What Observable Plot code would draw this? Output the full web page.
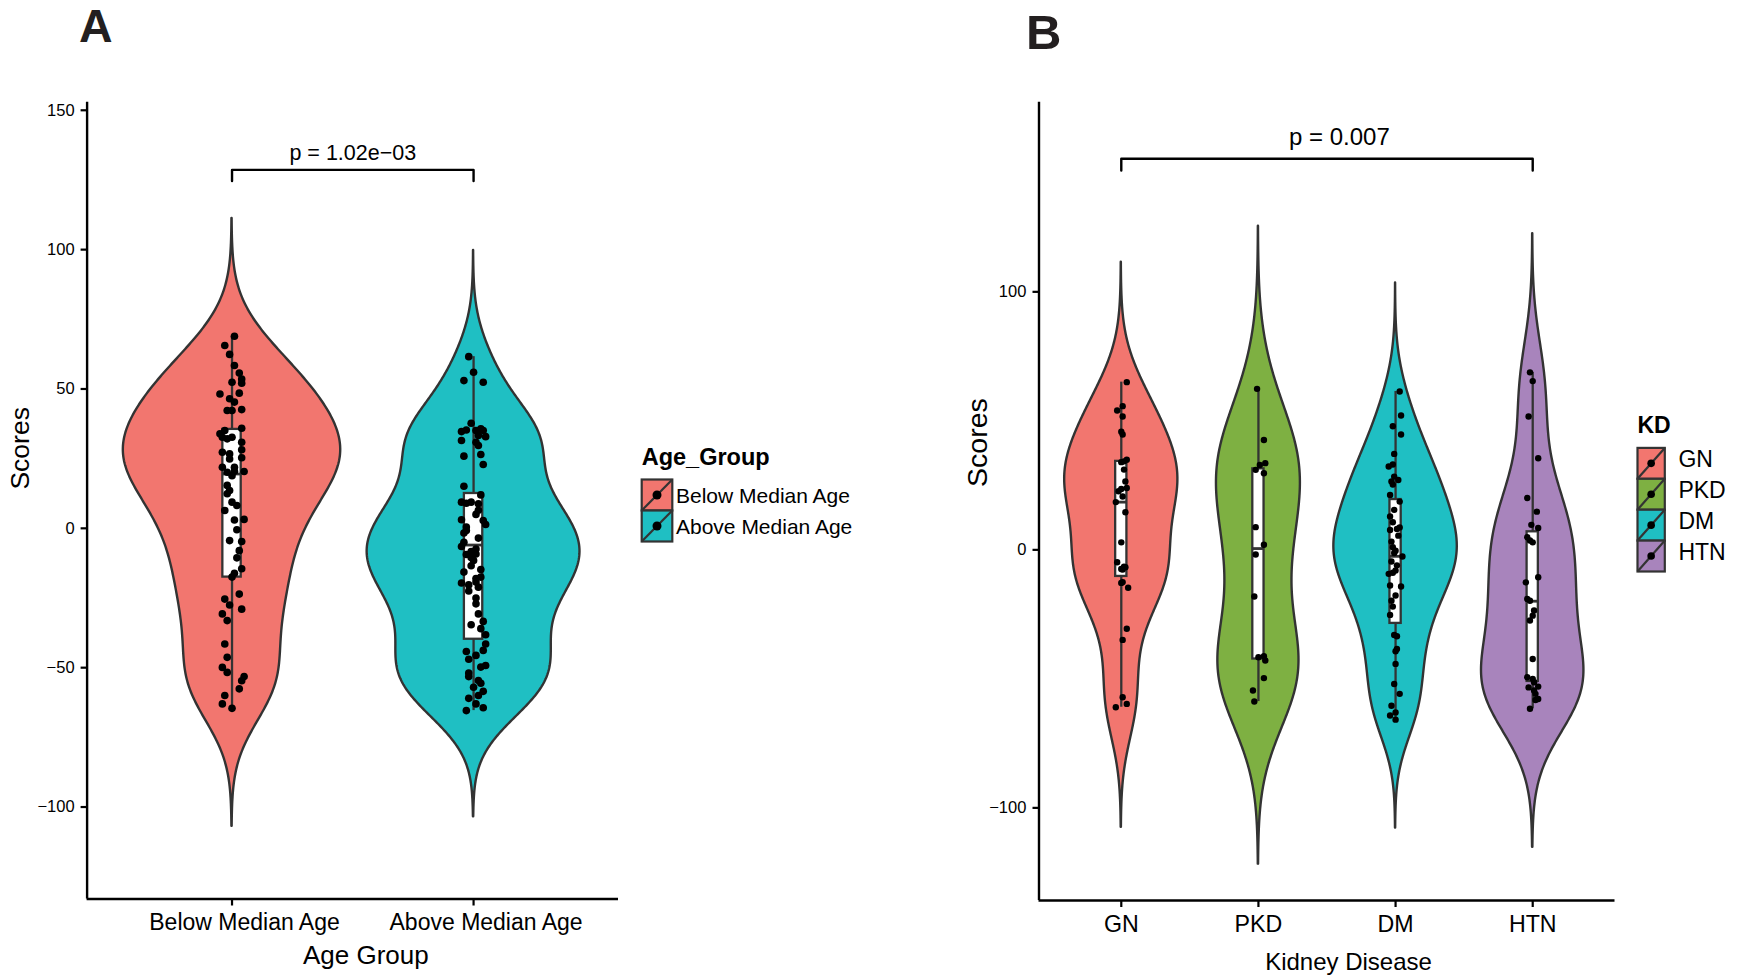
<!DOCTYPE html>
<html><head><meta charset="utf-8">
<script src="https://cdn.jsdelivr.net/npm/d3@7"></script>
<script src="https://cdn.jsdelivr.net/npm/@observablehq/plot@0.6"></script>
<style>
html,body{margin:0;padding:0;background:#fff;}
#root{position:relative;width:1737px;height:976px;overflow:hidden;font-family:"Liberation Sans",Arial,Helvetica,sans-serif;}
</style></head><body><div id="root"></div>
<script>
// ---------------- Panel A data ----------------
const groupsA = ["Below Median Age", "Above Median Age"];
const colorsA = ["#F2766F", "#1FBFC3"];
const scoresBelow = [68.9,65.6,62.4,58.4,55.7,53.6,52.1,52.4,48.2,46.5,45.3,48.5,42.6,42.3,42.3,35.9,35.1,33.9,32.7,32.1,32.7,30.9,28.2,27.3,26.7,24.9,25.3,21.9,21.9,20.5,20.1,18.9,20.4,15.4,13.6,12.4,9.4,8.2,6.4,3.0,3.2,-0.5,-4.4,-4.7,-8.0,-10.6,-14.5,-16.1,-17.5,-23.6,-25.4,-27.5,-29.0,-30.7,-33.1,-41.5,-46.3,-49.9,-51.7,-53.2,-54.7,-57.6,-60.0,-63.0,-64.6];
const jitterBelow = [1,-3,-1,1,3,4,4,0,-5,-1,1,3,4,-2,0,4,-3,-5,-4,-2,0,4,4,-4,-1,-1,4,-4,1,1,-2,0,5,-2,-1,-2,0,2,-3,1,5,2,-1,4,3,2,4,1,0,3,-3,-1,4,-4,-2,-3,-2,-4,-2,5,4,3,-3,-4,0];
const scoresAbove = [61.6,56.0,53.0,52.4,37.7,34.7,35.3,35.1,35.7,35.1,33.3,32.9,31.5,30.9,29.7,26.5,25.9,22.9,15.1,12.0,9.4,9.0,9.4,8.8,5.0,2.8,1.4,3.1,-0.8,-1.7,-6.5,-7.4,-8.3,-9.2,-9.4,-11.5,-13.4,-15.7,-17.5,-19.6,-20.3,-19.3,-21.1,-27.1,-30.7,-33.4,-34.6,-38.2,-41.5,-43.8,-44.2,-45.6,-49.8,-49.2,-51.9,-53.2,-54.6,-55.6,-58.5,-61.0,-63.0,-65.4,-64.4,
  -3.5,-10.5,-14.8,-22.5,-25.0,0.5,6.5,-5.0,-18.0,-36.0,-47.0,-57.0,-60.0];
const jitterAbove = [-2,0,-4,4,-1,-5,-3,1,3,4,2,5,-5,1,2,3,-4,4,-4,3,-5,-3,-1,2,1,4,5,-5,-3,-4,-5,1,-1,1,-3,0,-1,-4,3,-5,-2,1,2,1,2,4,-1,5,5,4,-3,1,3,5,-2,-2,2,3,4,-2,1,-3,4,
  2,-1,3,-2,1,-3,2,-4,1,3,-2,0,2];
const bandwidthA = [14.1, 12.7];
const boxLoA = [-64.6, -65.4], boxQ1A = [-17.5, -39.8], boxMedA = [19.5, -6], boxQ3A = [35.5, 12.5], boxHiA = [68.9, 61.6];
const yTicksA = [-100, -50, 0, 50, 100, 150];
const pLabelA = "p = 1.02e\u221203";
const bracketA = {from: 1, to: 2, y: 128.6, tip: 124.6, labelX: 1.5, labelY: 132.2};

// ---------------- Panel B data ----------------
const groupsB = ["GN", "PKD", "DM", "HTN"];
const colorsB = ["#F2766F", "#7EB042", "#1FBFC3", "#A884BC"];
const scoresGN = [65.0,55.7,54.0,51.7,45.8,44.7,34.0,34.3,34.9,31.1,26.5,24.0,23.6,22.7,20.7,18.5,14.6,2.9,-4.8,-7.4,-6.5,-6.7,-7.6,-12.8,-12.5,-14.7,-30.6,-34.9,-57.1,-61.0,-59.7];
const jitterGN = [4,1,-3,1,0,1,0,2,4,2,3,4,0,-2,1,-4,3,0,-3,0,2,3,1,0,1,5,4,1,1,-4,4];
const scoresPKD = [62.4,42.6,33.6,32.9,31.0,29.7,8.8,2.0,-1.8,-18.1,-41.6,-41.2,-42.9,-49.7,-54.5,-58.8];
const jitterPKD = [-1,4,5,1,-2,4,-2,4,-2,-3,0,4,5,4,-4,-3];
const scoresDM = [61.4,52.1,47.9,44.7,37.2,33.1,32.3,28.4,27.1,26.5,25.3,21.3,18.7,12.9,10.7,8.7,7.7,8.1,3.2,1.0,-0.3,-1.2,-2.6,-9.3,-8.9,-8.0,-13.8,-14.2,-17.7,-19.7,-25.2,-33.0,-33.5,-38.4,-39.3,-44.2,-52.0,-55.8,-60.4,-63.0,-64.2,-65.8,
  5.5,-4.5,-6.0,-22.0,15.5];
const jitterDM = [3,4,-2,4,-1,-2,-5,-1,2,-3,-2,-4,3,-4,-2,3,-4,1,-3,-2,0,-1,5,-5,-2,0,-4,4,0,-3,-4,-1,1,1,0,0,-1,3,-3,0,-4,0,
  2,-3,1,-2,-1];
const scoresHTN = [68.8,65.4,51.7,35.5,20.1,14.8,9.7,8.5,4.9,3.6,2.9,-10.6,-12.6,-19.0,-19.7,-23.5,-25.5,-27.4,-42.3,-49.4,-50.0,-51.3,-53.3,-53.0,-54.5,-55.8,-57.8,-58.2,-61.6];
const jitterHTN = [-2,0,-3,4,-4,3,-1,4,-4,-2,0,4,-5,-4,-2,1,0,-2,0,-4,0,1,-3,4,1,2,4,2,-2];
const bandwidthB = [15.5, 21, 14, 17.9];
const boxLoB = [-61.0, -58.8, -65.8, -61.6], boxQ1B = [-10.3, -42.3, -28.5, -51.0], boxMedB = [18.5, 0.5, -2.5, -19.9], boxQ3B = [34.3, 31.4, 19.5, 7.0], boxHiB = [65.0, 62.4, 61.4, 68.8];
const yTicksB = [-100, 0, 100];
const pLabelB = "p = 0.007";
const bracketB = {from: 1, to: 4, y: 151.6, tip: 147, labelX: 2.59, labelY: 157.1};

// ---------------- helpers ----------------
const FONT = '"Liberation Sans", Arial, Helvetica, sans-serif';
function kde(values, bw, n = 400) {
  const lo = d3.min(values) - 3 * bw, hi = d3.max(values) + 3 * bw;
  const out = [];
  for (let i = 0; i < n; i++) {
    const y = lo + (hi - lo) * i / (n - 1);
    let s = 0;
    for (const v of values) { const u = (y - v) / bw; s += Math.exp(-0.5 * u * u); }
    out.push({y, d: s / (values.length * bw * Math.sqrt(2 * Math.PI))});
  }
  return out;
}
function buildPanel(groups, scores, jitters, bws, lo, q1, med, q3, hi) {
  const dens = groups.map((g, i) => kde(scores[i], bws[i]));
  const maxD = d3.max(dens.flat(), d => d.d);
  const violin = [];
  dens.forEach((arr, i) => arr.forEach(p => {
    const hw = 0.45 * p.d / maxD;
    violin.push({g: groups[i], y: p.y, x1: i + 1 - hw, x2: i + 1 + hw});
  }));
  const points = [];
  scores.forEach((arr, i) => arr.forEach((v, j) => points.push({g: groups[i], v, x: i + 1 + jitters[i][j] * 0.01})));
  const boxes = groups.map((g, i) => ({g, c: i + 1, lo: lo[i], q1: q1[i], med: med[i], q3: q3[i], hi: hi[i]}));
  return {violin, points, boxes};
}
function bracketPts(b) {
  return [{x: b.from, y: b.tip}, {x: b.from, y: b.y}, {x: b.to, y: b.y}, {x: b.to, y: b.tip}];
}

const root = document.getElementById("root");
const LINE = "#333333";

// ---------------- Panel A ----------------
const A = buildPanel(groupsA, [scoresBelow, scoresAbove], [jitterBelow, jitterAbove], bandwidthA, boxLoA, boxQ1A, boxMedA, boxQ3A, boxHiA);
const boxWA = 0.076;
const plotA = Plot.plot({
  width: 640, height: 976,
  marginLeft: 86.6, marginRight: 22, marginTop: 101.7, marginBottom: 77.5,
  style: {fontFamily: FONT, color: "black", background: "transparent", overflow: "visible"},
  x: {domain: [0.4, 2.6]},
  y: {domain: [-133.0, 152.9]},
  color: {domain: groupsA, range: colorsA},
  marks: [
    Plot.areaX(A.violin, {y: "y", x1: "x1", x2: "x2", z: "g", fill: "g", stroke: LINE, strokeWidth: 2.4}),
    Plot.ruleX(A.boxes, {x: "c", y1: "lo", y2: "q1", stroke: LINE, strokeWidth: 2.3}),
    Plot.ruleX(A.boxes, {x: "c", y1: "q3", y2: "hi", stroke: LINE, strokeWidth: 2.3}),
    Plot.rect(A.boxes, {x1: d => d.c - boxWA / 2, x2: d => d.c + boxWA / 2, y1: "q1", y2: "q3", fill: "white", stroke: LINE, strokeWidth: 2.3}),
    Plot.ruleY(A.boxes, {y: "med", x1: d => d.c - boxWA / 2, x2: d => d.c + boxWA / 2, stroke: LINE, strokeWidth: 2.8}),
    Plot.dot(A.points, {x: "x", y: "v", r: 3.8, fill: "black"}),
    Plot.line(bracketPts(bracketA), {x: "x", y: "y", stroke: "black", strokeWidth: 2.4}),
    Plot.text([pLabelA], {x: bracketA.labelX, y: bracketA.labelY, text: d => d, fontSize: 21.5, lineAnchor: "bottom", fill: "black"}),
    Plot.ruleX([0.4], {stroke: "black", strokeWidth: 2.4}),
    Plot.ruleY([-133.0], {stroke: "black", strokeWidth: 2.4}),
    Plot.axisY({ticks: yTicksA, tickSize: 6, tickPadding: 6.5, fontSize: 16.5, strokeWidth: 2.2, label: null}),
    Plot.axisX({ticks: [1, 2], tickSize: 7, strokeWidth: 2.2, tickFormat: () => "", label: null}),
    Plot.axisX({ticks: [1, 2], tickSize: 0, tickPadding: 14.2, fontSize: 23, dx: 12.5, tickFormat: i => groupsA[i - 1], label: null}),
    Plot.text(["Scores"], {text: d => d, frameAnchor: "left", rotate: -90, dx: -66.6, dy: -11, fontSize: 26.5, lineAnchor: "middle", fill: "black"}),
    Plot.text(["Age Group"], {text: d => d, frameAnchor: "bottom", lineAnchor: "bottom", dx: 13, dy: 64.5, fontSize: 26, fill: "black"}),
    Plot.text(["A"], {text: d => d, frameAnchor: "top-left", textAnchor: "start", lineAnchor: "bottom", dx: -8.1, dy: -60, fontSize: 46.5, fontWeight: "bold", fill: "#231F20"})
  ]
});
plotA.style.position = "absolute"; plotA.style.left = "0px"; plotA.style.top = "0px";
root.appendChild(plotA);

// ---------------- Panel B ----------------
const B = buildPanel(groupsB, [scoresGN, scoresPKD, scoresDM, scoresHTN], [jitterGN, jitterPKD, jitterDM, jitterHTN], bandwidthB, boxLoB, boxQ1B, boxMedB, boxQ3B, boxHiB);
const boxWB = 0.082;
const plotB = Plot.plot({
  width: 680, height: 976,
  marginLeft: 98.5, marginRight: 5.5, marginTop: 101.7, marginBottom: 76,
  style: {fontFamily: FONT, color: "black", background: "transparent", overflow: "visible"},
  x: {domain: [0.4, 4.6]},
  y: {domain: [-135.9, 173.5]},
  color: {domain: groupsB, range: colorsB},
  marks: [
    Plot.areaX(B.violin, {y: "y", x1: "x1", x2: "x2", z: "g", fill: "g", stroke: LINE, strokeWidth: 2.4}),
    Plot.ruleX(B.boxes, {x: "c", y1: "lo", y2: "q1", stroke: LINE, strokeWidth: 2.3}),
    Plot.ruleX(B.boxes, {x: "c", y1: "q3", y2: "hi", stroke: LINE, strokeWidth: 2.3}),
    Plot.rect(B.boxes, {x1: d => d.c - boxWB / 2, x2: d => d.c + boxWB / 2, y1: "q1", y2: "q3", fill: "white", stroke: LINE, strokeWidth: 2.3}),
    Plot.ruleY(B.boxes, {y: "med", x1: d => d.c - boxWB / 2, x2: d => d.c + boxWB / 2, stroke: LINE, strokeWidth: 2.8}),
    Plot.dot(B.points, {x: "x", y: "v", r: 3.2, fill: "black"}),
    Plot.line(bracketPts(bracketB), {x: "x", y: "y", stroke: "black", strokeWidth: 2.4}),
    Plot.text([pLabelB], {x: bracketB.labelX, y: bracketB.labelY, text: d => d, fontSize: 24, lineAnchor: "bottom", fill: "black"}),
    Plot.ruleX([0.4], {stroke: "black", strokeWidth: 2.4}),
    Plot.ruleY([-135.9], {stroke: "black", strokeWidth: 2.4}),
    Plot.axisY({ticks: yTicksB, tickSize: 6, tickPadding: 6.6, fontSize: 16.5, strokeWidth: 2.2, label: null}),
    Plot.axisX({ticks: [1, 2, 3, 4], tickSize: 7, strokeWidth: 2.2, tickFormat: () => "", label: null}),
    Plot.axisX({ticks: [1, 2, 3, 4], tickSize: 0, tickPadding: 15.5, fontSize: 23.2, tickFormat: i => groupsB[i - 1], label: null}),
    Plot.text(["Scores"], {text: d => d, frameAnchor: "left", rotate: -90, dx: -61, dy: -14.4, fontSize: 28.5, lineAnchor: "middle", fill: "black"}),
    Plot.text(["Kidney Disease"], {text: d => d, frameAnchor: "bottom", lineAnchor: "bottom", dx: 21.5, dy: 69.5, fontSize: 24, fill: "black"}),
    Plot.text(["B"], {text: d => d, frameAnchor: "top-left", textAnchor: "start", lineAnchor: "bottom", dx: -13, dy: -53.4, fontSize: 49, fontWeight: "bold", fill: "#231F20"})
  ]
});
plotB.style.position = "absolute"; plotB.style.left = "940px"; plotB.style.top = "0px";
root.appendChild(plotB);

// ---------------- Legends ----------------
const ov = d3.select(root).append("svg")
  .attr("width", 1737).attr("height", 976)
  .style("position", "absolute").style("left", "0px").style("top", "0px")
  .style("font-family", FONT);
function legend(o) {
  const g = ov.append("g");
  g.append("text").attr("x", o.x).attr("y", o.titleY).attr("font-weight", "bold").attr("font-size", o.titleSize).attr("fill", "black").text(o.title);
  o.labels.forEach((lab, i) => {
    const y = o.keyTop + i * o.keyH;
    g.append("rect").attr("x", o.x).attr("y", y).attr("width", o.keyW).attr("height", o.keyH)
      .attr("fill", o.colors[i]).attr("stroke", LINE).attr("stroke-width", 2.2);
    g.append("line").attr("x1", o.x).attr("y1", y + o.keyH).attr("x2", o.x + o.keyW).attr("y2", y)
      .attr("stroke", LINE).attr("stroke-width", 2.2);
    g.append("circle").attr("cx", o.x + o.keyW / 2).attr("cy", y + o.keyH / 2).attr("r", o.dotR).attr("fill", "black");
    g.append("text").attr("x", o.labelX).attr("y", y + o.keyH / 2 + o.labelShift)
      .attr("font-size", o.labelSize).attr("fill", "black").text(lab);
  });
}
legend({title: "Age_Group", labels: groupsA, colors: colorsA, x: 641.7, titleY: 465, titleSize: 23.5,
  keyTop: 479.5, keyW: 30.6, keyH: 31, labelX: 676, labelShift: 7.5, labelSize: 21, dotR: 4.5});
legend({title: "KD", labels: groupsB, colors: colorsB, x: 1637.5, titleY: 433.2, titleSize: 23,
  keyTop: 447.9, keyW: 27.3, keyH: 30.9, labelX: 1678.4, labelShift: 4, labelSize: 23, dotR: 3.8});
</script></body></html>
